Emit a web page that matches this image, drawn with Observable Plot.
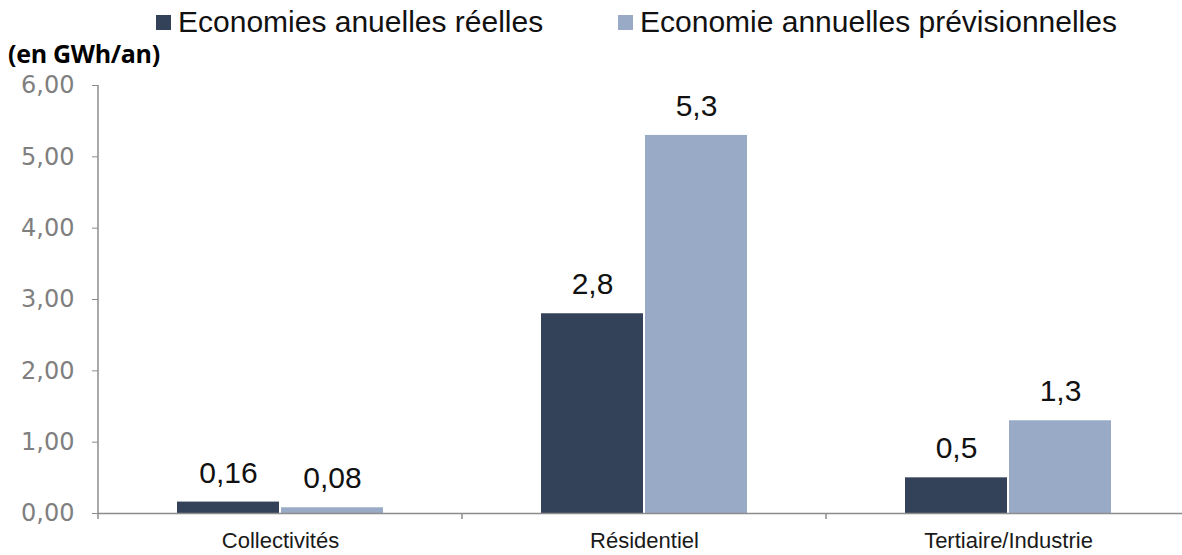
<!DOCTYPE html>
<html>
<head>
<meta charset="utf-8">
<script src="https://cdn.jsdelivr.net/npm/d3@7"></script>
<script src="https://cdn.jsdelivr.net/npm/@observablehq/plot@0.6"></script>
<style>
  html, body { margin: 0; padding: 0; background: #fff; }
  #wrap { position: relative; width: 1182px; height: 555px; overflow: hidden; }
  .legend { position: absolute; top: 0; height: 44px; display: flex; align-items: center;
            font-family: "Liberation Sans", Arial, sans-serif; font-size: 30px; color: #111; white-space: nowrap; }
  .legend .sw { display: inline-block; width: 15px; height: 15px; margin-right: 7px; }
  .unit { position: absolute; left: 8px; top: 36px; font-family: "Open Sans", sans-serif; font-weight: 700; font-size: 25px; color: #000; letter-spacing: -0.3px; }
  #chart { position: absolute; left: 0; top: 70px; }
</style>
</head>
<body>
<div id="wrap">
  <div id="legend"></div>
  <div class="unit">(en GWh/an)</div>
  <div id="chart"></div>
</div>
<script>
// Sectors, series and yearly savings (GWh/an)
const categories = ["Collectivités", "Résidentiel", "Tertiaire/Industrie"];
const series = ["Economies anuelles réelles", "Economie annuelles prévisionnelles"];
const reelles = [0.16, 2.8, 0.5];
const previsionnelles = [0.08, 5.3, 1.3];
const valueLabels = [["0,16", "2,8", "0,5"], ["0,08", "5,3", "1,3"]];
const yTicks = [0, 1, 2, 3, 4, 5, 6];
const colors = ["#334259", "#98aac6"];

const rows = [];
categories.forEach((c, i) => {
  rows.push({category: c, series: series[0], value: reelles[i], label: valueLabels[0][i]});
  rows.push({category: c, series: series[1], value: previsionnelles[i], label: valueLabels[1][i]});
});

// Legend above the chart
const legendPos = [156, 618];
const legend = document.getElementById("legend");
series.forEach((s, i) => {
  const item = document.createElement("div");
  item.className = "legend";
  item.style.left = legendPos[i] + "px";
  item.innerHTML = `<span class="sw" style="background:${colors[i]}"></span><span>${s}</span>`;
  legend.appendChild(item);
});

const fmt = d => d.toFixed(2).replace(".", ",");
const axisGrey = "#8c8c8c";

const plot = Plot.plot({
  width: 1182,
  height: 485,
  marginTop: 15,
  marginBottom: 42,
  marginLeft: 97,
  marginRight: 0,
  style: {fontFamily: "'Liberation Sans', Arial, sans-serif", overflow: "hidden"},
  fx: {domain: categories, range: [97, 1191], padding: 0},
  x: {domain: series, paddingInner: 0.02, paddingOuter: 0.75, axis: null},
  y: {domain: [0, 6], axis: null},
  color: {domain: series, range: colors},
  marks: [
    Plot.axisY({ticks: yTicks, tickFormat: fmt, tickSize: 6, tickPadding: 18, fontSize: 24,
                fontFamily: "'DejaVu Sans', sans-serif", color: "#7f7f7f", stroke: axisGrey, label: null}),
    Plot.axisFx({anchor: "bottom", tickSize: 0, tickPadding: 19, fontSize: 22, color: "#1a1a1a", label: null}),
    Plot.barY(rows, {fx: "category", x: "series", y: "value", fill: "series"}),
    Plot.ruleY([0], {stroke: axisGrey, strokeWidth: 1.5}),
    Plot.text(rows, {fx: "category", x: "series", y: "value", text: "label", dy: -29, fontSize: 30, fill: "#111"})
  ]
});
document.getElementById("chart").appendChild(plot);

// Vertical axis line and category boundary ticks, placed with the plot's scales
const fxs = plot.scale("fx");
const ys = plot.scale("y");
const y0 = ys.apply(0);
const edges = fxs.domain.map(d => fxs.apply(d));
edges.push(fxs.apply(fxs.domain[fxs.domain.length - 1]) + fxs.bandwidth);
const g = d3.select(plot).append("g").attr("stroke", axisGrey).attr("stroke-width", 1.5);
g.append("line")
  .attr("x1", edges[0]).attr("x2", edges[0])
  .attr("y1", ys.apply(yTicks[yTicks.length - 1])).attr("y2", y0);
g.selectAll("line.edge").data(edges).join("line").attr("class", "edge")
  .attr("x1", d => d).attr("x2", d => d)
  .attr("y1", y0).attr("y2", y0 + 6);
</script>
</body>
</html>
